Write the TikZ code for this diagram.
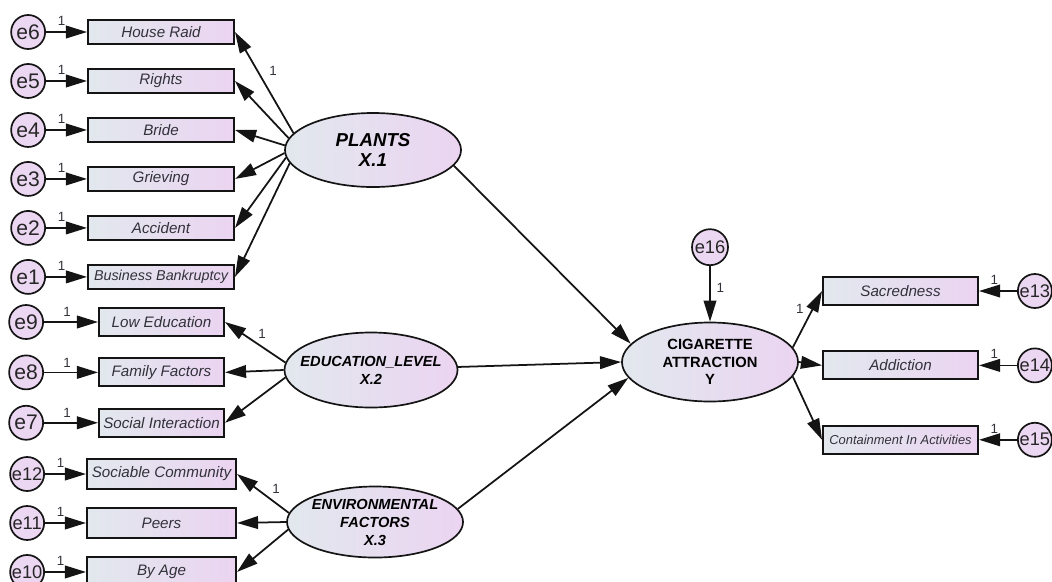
\documentclass[tikz,border=0pt]{standalone}
\usepackage{fontspec}
\setmainfont{Liberation Sans}
\usetikzlibrary{positioning,arrows.meta,shapes.geometric}
\definecolor{SemLine}{RGB}{20,20,20}
\definecolor{SemText}{RGB}{50,50,58}
\definecolor{SemCool}{RGB}{226,232,238}
\definecolor{SemWarm}{RGB}{235,212,241}
\definecolor{SemErr}{RGB}{236,215,242}
\tikzset{
  sem item/.style={
    draw=SemLine,
    line width=1.4pt,
    left color=SemCool,
    right color=SemWarm,
    text=SemText,
    font=\fontsize{10.8}{12}\selectfont\itshape,
    inner sep=1pt
  },
  sem itemA/.style={sem item, minimum width=3.65cm, minimum height=0.6cm},
  sem itemB/.style={sem item, minimum width=3.125cm, minimum height=0.7cm},
  sem itemC/.style={sem item, minimum width=3.725cm, minimum height=0.75cm},
  sem itemD/.style={sem item, minimum width=3.875cm, minimum height=0.7cm},
  sem latent/.style={ellipse, draw=SemLine, line width=1.2pt, left color=SemCool, right color=SemWarm, inner sep=0pt},
  sem latent text/.style={align=center, text=black, font=\fontsize{10.4}{12.8}\selectfont\bfseries\itshape},
  sem err/.style={circle, draw=SemLine, line width=1.2pt, fill=SemErr, inner sep=0pt, minimum size=0.85cm, text=black!85, font=\fontsize{15}{15}\selectfont},
  sem err2/.style={sem err, font=\fontsize{13}{13}\selectfont},
  sem arrow/.style={-{Triangle[length=15pt,width=9pt]}, line width=1.25pt, SemLine},
  sem one/.style={font=\fontsize{9.5}{10}\selectfont, text=SemText, inner sep=1pt}
}

\begin{document}
\begin{tikzpicture}[x=0.025cm, y=-0.025cm]
\useasboundingbox (0,0) rectangle (1052,581);
% latent variables
\node[sem latent, minimum width=4.4cm, minimum height=1.85cm, label={[sem latent text, font=\fontsize{13.3}{14.5}\selectfont\bfseries\itshape]center:{PLANTS\\X.1}}] (plants) at (373,150) {};
\node[sem latent, minimum width=4.325cm, minimum height=1.875cm, label={[sem latent text]center:{EDUCATION\_LEVEL\\X.2}}] (edu) at (371,370) {};
\node[sem latent, minimum width=4.4cm, minimum height=1.775cm, label={[sem latent text]center:{ENVIRONMENTAL\\FACTORS\\X.3}}] (env) at (375,522) {};
\node[sem latent, minimum width=4.4cm, minimum height=1.975cm, label={[sem latent text, font=\fontsize{10.5}{12.4}\selectfont\bfseries]center:{CIGARETTE\\ATTRACTION\\Y}}] (cig) at (710,362) {};
% plants indicators
\node[sem itemA] (hr) at (161,32) {House Raid};
\node[sem itemA, below=0.575cm of hr] (rights) {Rights};
\node[sem itemA, below=0.575cm of rights] (bride) {Bride};
\node[sem itemA, below=0.575cm of bride] (grief) {Grieving};
\node[sem itemA, below=0.575cm of grief] (accid) {Accident};
\node[sem itemA, below=0.575cm of accid, font=\fontsize{10.2}{12}\selectfont\itshape] (bankr) {Business Bankruptcy};
\node[sem err, left=1.025cm of hr] (e6) {e6};
\node[sem err, left=1.025cm of rights] (e5) {e5};
\node[sem err, left=1.025cm of bride] (e4) {e4};
\node[sem err, left=1.025cm of grief] (e3) {e3};
\node[sem err, left=1.025cm of accid] (e2) {e2};
\node[sem err, left=1.025cm of bankr] (e1) {e1};
% education indicators
\node[sem itemB] (lowed) at (161.5,322) {Low Education};
\node[sem itemB, below=0.51cm of lowed] (famf) {Family Factors};
\node[sem itemB, below=0.51cm of famf] (socint) {Social Interaction};
\node[sem err, left=1.35cm of lowed] (e9) {e9};
\node[sem err, left=1.35cm of famf] (e8) {e8};
\node[sem err, left=1.35cm of socint] (e7) {e7};
% environment indicators
\node[sem itemC] (sociab) at (161.5,474) {Sociable Community};
\node[sem itemC, below=0.425cm of sociab] (peers) {Peers};
\node[sem itemC, below=0.425cm of peers] (byage) {By Age};
\node[sem err2, left=1.025cm of sociab] (e12) {e12};
\node[sem err2, left=1.025cm of peers] (e11) {e11};
\node[sem err2, left=1.025cm of byage] (e10) {e10};
% outcome indicators
\node[sem itemD] (sacred) at (900.5,291) {Sacredness};
\node[sem itemD, below=1.11cm of sacred] (addict) {Addiction};
\node[sem itemD, below=1.11cm of addict, font=\fontsize{9.2}{11}\selectfont\itshape] (contain) {Containment In Activities};
\node[sem err2, right=0.95cm of sacred] (e13) {e13};
\node[sem err2, right=0.95cm of addict] (e14) {e14};
\node[sem err2, right=0.95cm of contain] (e15) {e15};
\node[sem err2, minimum size=0.9cm, above=1.39cm of cig] (e16) {e16};

\draw[sem arrow] (e6) -- node[sem one, pos=0.38, above=3pt]{1} (hr);
\draw[sem arrow] (e5) -- node[sem one, pos=0.38, above=3pt]{1} (rights);
\draw[sem arrow] (e4) -- node[sem one, pos=0.38, above=3pt]{1} (bride);
\draw[sem arrow] (e3) -- node[sem one, pos=0.38, above=3pt]{1} (grief);
\draw[sem arrow] (e2) -- node[sem one, pos=0.38, above=3pt]{1} (accid);
\draw[sem arrow] (e1) -- node[sem one, pos=0.38, above=3pt]{1} (bankr);
\draw[sem arrow] (plants.168) -- node[sem one, pos=0.62, right=7pt]{1} (hr.east);
\draw[sem arrow] (plants.172) -- (rights.east);
\draw[sem arrow] (plants.177) -- (bride.east);
\draw[sem arrow] (plants.182) -- (grief.east);
\draw[sem arrow] (plants.185) -- (accid.east);
\draw[sem arrow] (plants.189) -- (bankr.east);

\draw[sem arrow] (e9) -- node[sem one, pos=0.43, above=2pt]{1} (lowed);
\draw[sem arrow] (e8) -- node[sem one, pos=0.43, above=2pt]{1} (famf);
\draw[sem arrow] (e7) -- node[sem one, pos=0.43, above=2pt]{1} (socint);
\draw[sem arrow] (edu.175) -- node[sem one, pos=0.5, above right=1pt]{1} (lowed.east);
\draw[sem arrow] (edu.west) -- (famf.east);
\draw[sem arrow] (edu.185) -- (socint.east);

\draw[sem arrow] (e12) -- node[sem one, pos=0.38, above=3pt]{1} (sociab);
\draw[sem arrow] (e11) -- node[sem one, pos=0.38, above=3pt]{1} (peers);
\draw[sem arrow] (e10) -- node[sem one, pos=0.38, above=3pt]{1} (byage);
\draw[sem arrow] (env.174) -- node[sem one, pos=0.4, above right=2pt]{1} (sociab.east);
\draw[sem arrow] (env.west) -- (peers.east);
\draw[sem arrow] (env.185) -- (byage.east);

\draw[sem arrow] (plants.349) -- (cig.167);
\draw[sem arrow] (edu.2) -- (cig.west);
\draw[sem arrow] (env.9) -- (cig.191);
\draw[sem arrow] (e16) -- node[sem one, pos=0.4, right=3pt]{1} (cig);
\draw[sem arrow] (cig.10) -- node[sem one, pos=0.69, left=5pt]{1} (sacred.west);
\draw[sem arrow] (cig.east) -- (addict.west);
\draw[sem arrow] (cig.350) -- (contain.west);
\draw[sem arrow] (e13) -- node[sem one, pos=0.6, above=3pt]{1} (sacred);
\draw[sem arrow] (e14) -- node[sem one, pos=0.6, above=3pt]{1} (addict);
\draw[sem arrow] (e15) -- node[sem one, pos=0.6, above=3pt]{1} (contain);
\end{tikzpicture}
\end{document}
